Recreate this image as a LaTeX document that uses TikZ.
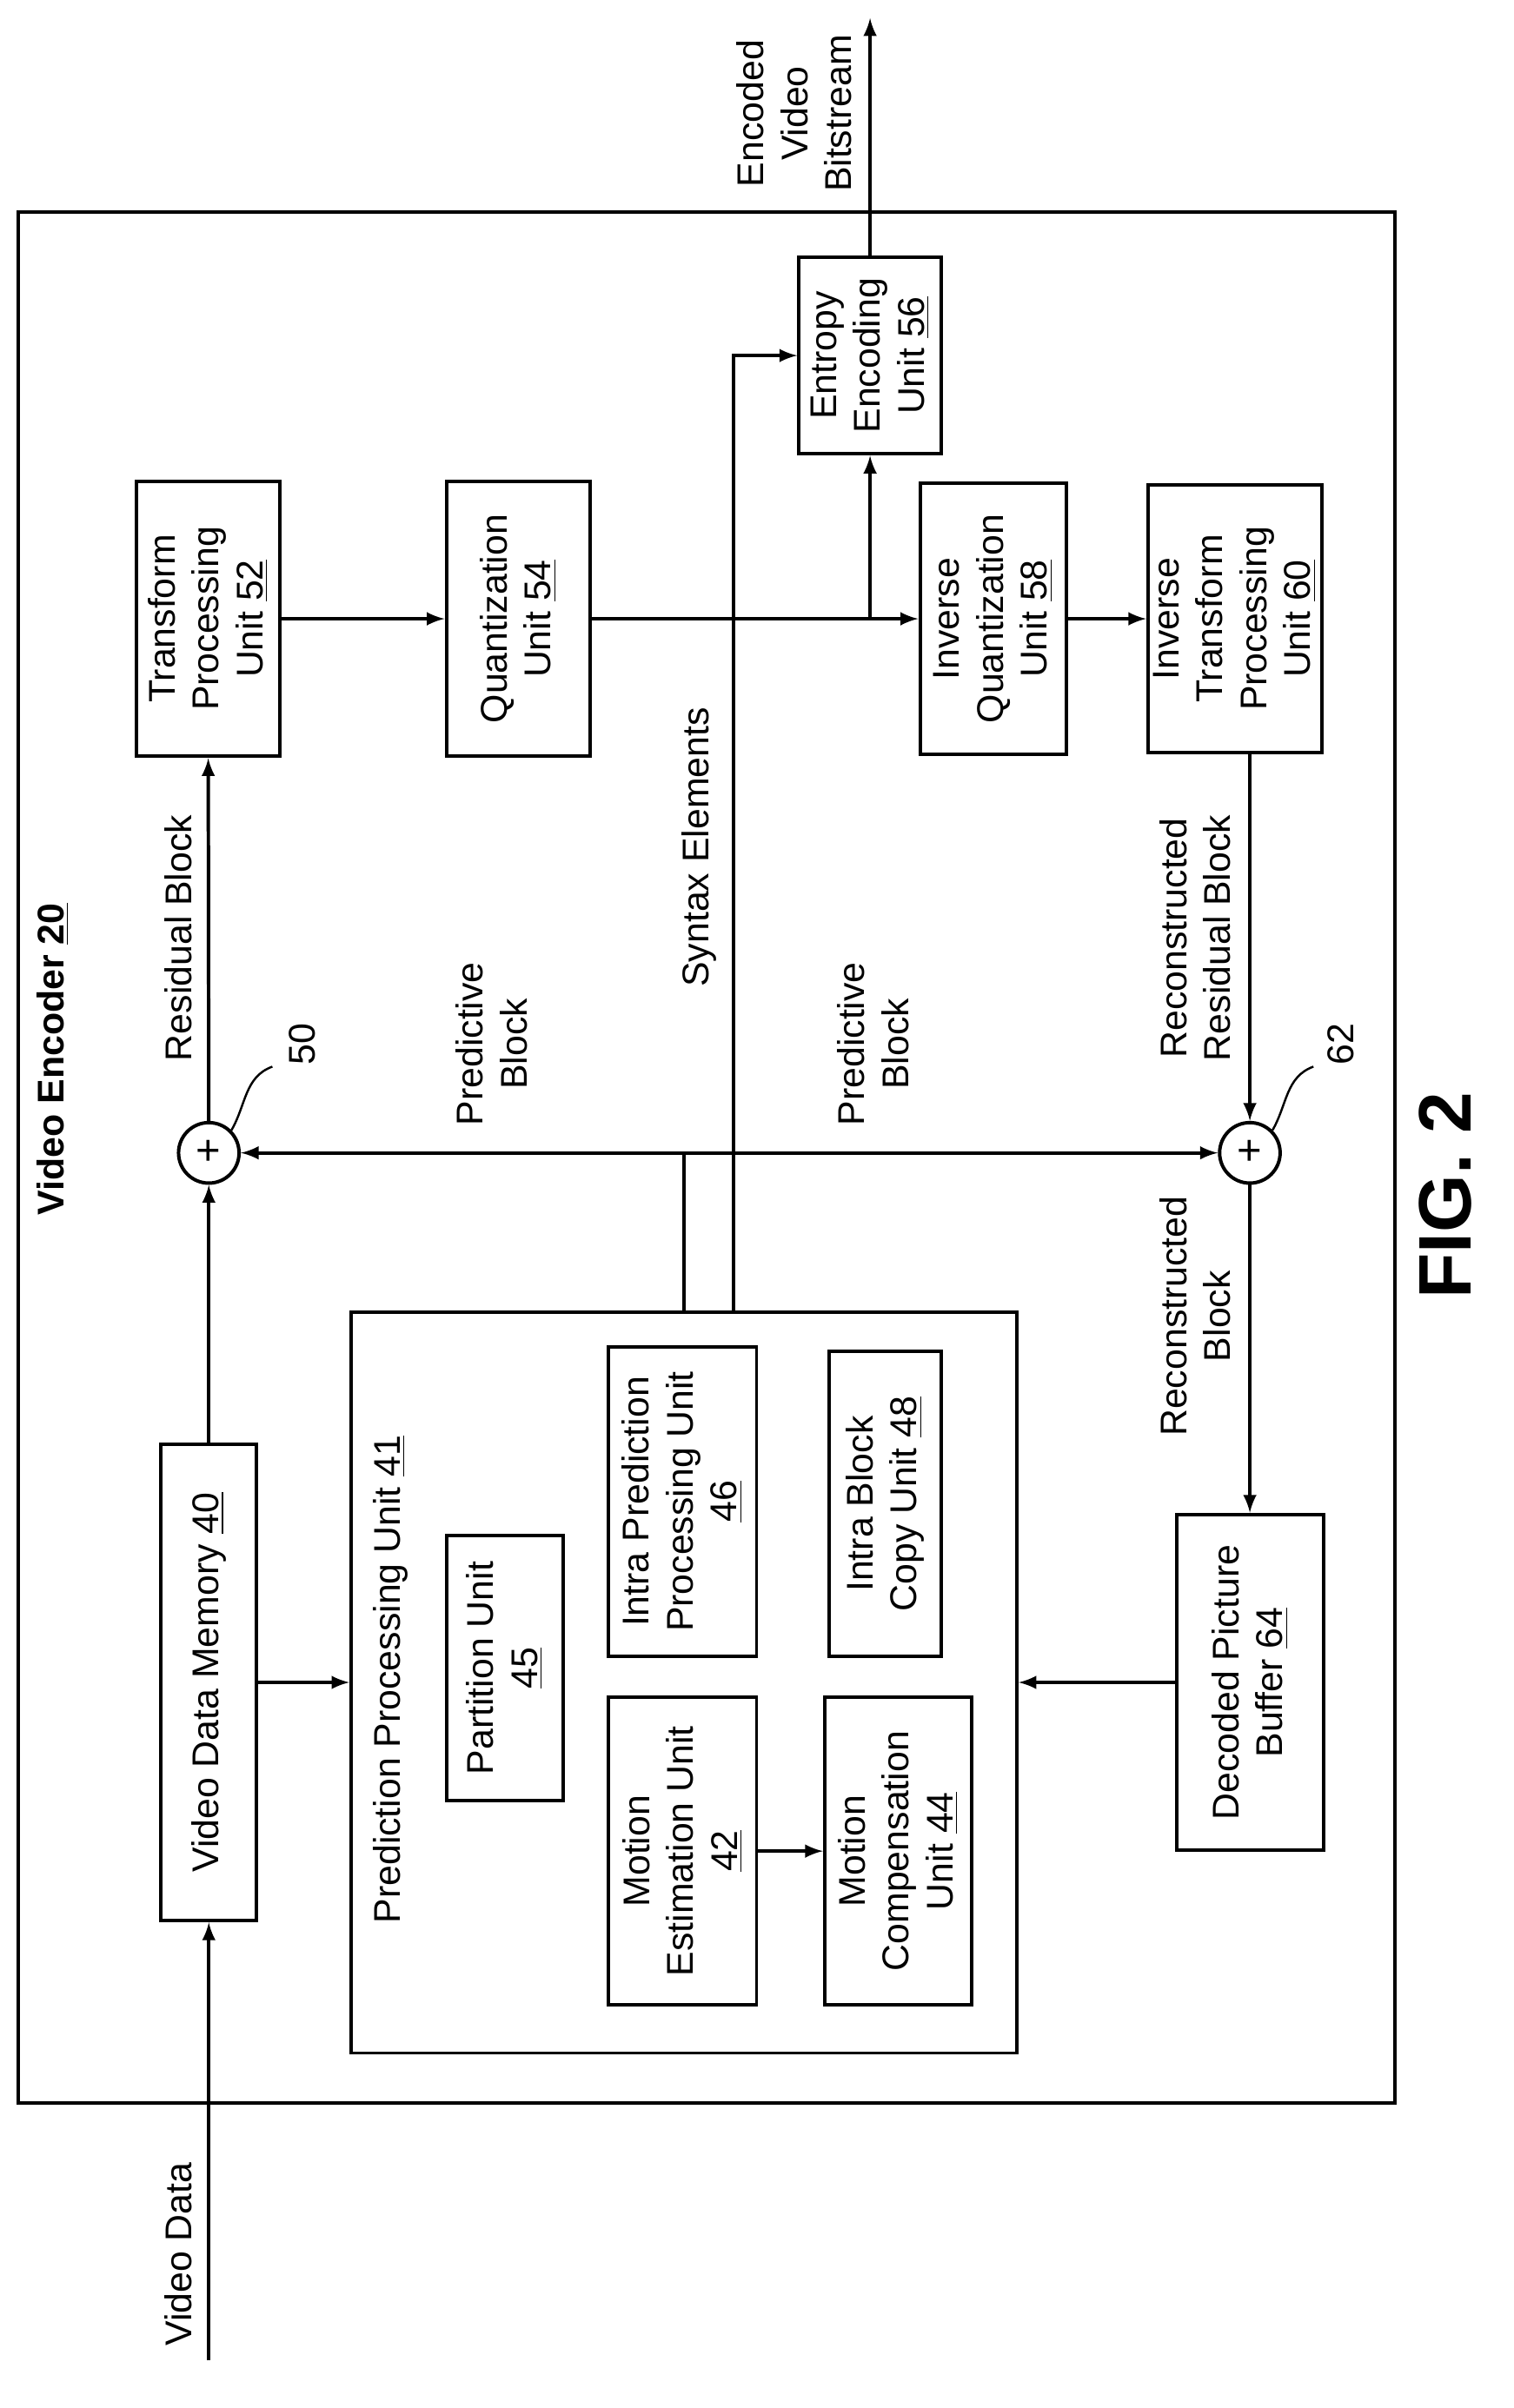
\documentclass[tikz,border=0pt]{standalone}
\usepackage{fontspec}
\setmainfont{Liberation Sans}
\begin{document}
\begin{tikzpicture}[x=0.02cm,y=-0.02cm,line width=1.3pt,>=latex,
 box/.style={draw,rotate=90,align=center,inner sep=2pt,font=\fontsize{14}{16.5}\selectfont},
 lbl/.style={rotate=90,align=center,font=\fontsize{14}{16.5}\selectfont},
 sum/.style={draw,circle,minimum size=0.8cm,inner sep=0pt,font=\fontsize{16}{16}\selectfont}]
\useasboundingbox (0,0) rectangle (1000,1591.6);
\draw (12,140) rectangle (922,1390);
\node[lbl,font=\fontsize{14}{16}\selectfont\bfseries] (ve) at (35,700) {Video Encoder \underline{20}};
\node[lbl,font=\fontsize{28}{30}\selectfont\bfseries] (fig) at (955,790) {FIG. 2};

\node[box,minimum width=3.64cm,minimum height=1.9cm] (tr) at (137.5,409) {Transform\\Processing\\Unit \underline{52}};
\node[box,minimum width=3.64cm,minimum height=1.9cm] (q) at (342.5,409) {Quantization\\Unit \underline{54}};
\node[box,minimum width=3.58cm,minimum height=1.94cm] (iq) at (656.5,409) {Inverse\\Quantization\\Unit \underline{58}};
\node[box,minimum width=3.54cm,minimum height=1.96cm] (it) at (816,409) {Inverse\\Transform\\Processing\\Unit \underline{60}};
\node[box,minimum width=2.6cm,minimum height=1.88cm] (ent) at (575,235) {Entropy\\Encoding\\Unit \underline{56}};
\node[box,minimum width=6.3cm,minimum height=1.26cm] (mem) at (138,1112) {Video Data Memory \underline{40}};
\node[box,minimum width=4.44cm,minimum height=1.94cm] (dpb) at (826,1112) {Decoded Picture\\Buffer \underline{64}};
\node[box,minimum width=9.8cm,minimum height=8.8cm] (pred) at (452,1112) {};
\node[lbl] (pt) at (258,1110) {Prediction Processing Unit \underline{41}};
\node[box,minimum width=3.5cm,minimum height=1.54cm] (part) at (333.5,1102.5) {Partition Unit\\\underline{45}};
\node[box,minimum width=4.1cm,minimum height=1.96cm] (ip) at (451,992.5) {Intra Prediction\\Processing Unit\\\underline{46}};
\node[box,minimum width=4.04cm,minimum height=1.48cm] (ibc) at (585,994) {Intra Block\\Copy Unit \underline{48}};
\node[box,minimum width=4.06cm,minimum height=1.96cm] (me) at (451,1223.5) {Motion\\Estimation Unit\\\underline{42}};
\node[box,minimum width=4.06cm,minimum height=1.94cm] (mc) at (593.5,1223.5) {Motion\\Compensation\\Unit \underline{44}};

\node[sum] (p1) at (138,762) {+};
\node[sum] (p2) at (826,762) {+};

\coordinate (vin) at (138,1560);
\coordinate (out) at (575,12);
\coordinate (br) at (575,409);
\coordinate (j) at (452,762);
\coordinate (s1) at (485,868);

\draw[->] (vin) -- (mem);
\draw[->] (mem) -- (p1);
\draw[->] (p1) -- (tr);
\draw[->] (tr) -- (q);
\draw (q) -- (br);
\draw[->] (br) -- (iq);
\draw[->] (br) -- (ent);
\draw[->] (ent) -- (out);
\draw[->] (iq) -- (it);
\draw[->] (it.west -| p2) -- (p2);
\draw[->] (p2) -- (dpb);
\draw[->] (dpb) -- (pred);
\draw[->] (mem) -- (pred);
\draw[->] (me) -- (mc);
\draw (pred.east) -- (j);
\draw[<->] (p1) -- (p2);
\draw[->] (s1) |- (ent);

\draw[line width=0.8pt] (p1.north east) to[out=60,in=200] (180,705);
\draw[line width=0.8pt] (p2.north east) to[out=60,in=200] (868,705);
\node[lbl] (n50) at (200,690) {50};
\node[lbl] (n62) at (886,690) {62};

\node[lbl] (lvd) at (118,1490) {Video Data};
\node[lbl] (lrb) at (118,620) {Residual Block};
\node[lbl] (lpb1) at (325,690) {Predictive\\Block};
\node[lbl] (lpb2) at (577,690) {Predictive\\Block};
\node[lbl] (lse) at (462,560) {Syntax Elements};
\node[lbl] (lrrb) at (790,620) {Reconstructed\\Residual Block};
\node[lbl] (lrcb) at (790,870) {Reconstructed\\Block};
\node[lbl] (lout) at (525,75) {Encoded\\Video\\Bitstream};
\end{tikzpicture}
\end{document}
